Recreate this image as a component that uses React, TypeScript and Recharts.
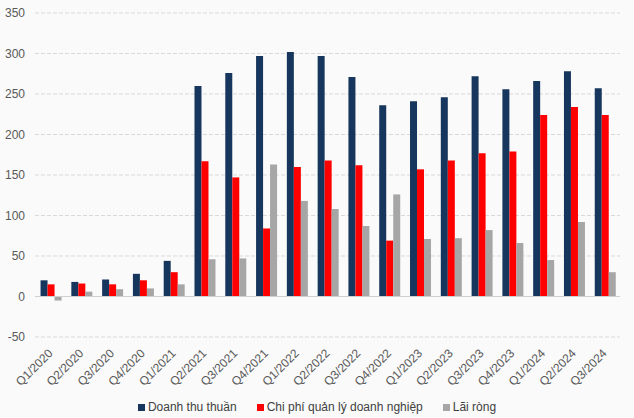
import {
  BarChart,
  Bar,
  XAxis,
  YAxis,
  CartesianGrid,
  ReferenceLine,
} from "recharts";

const quarters = [
  "Q1/2020", "Q2/2020", "Q3/2020", "Q4/2020",
  "Q1/2021", "Q2/2021", "Q3/2021", "Q4/2021",
  "Q1/2022", "Q2/2022", "Q3/2022", "Q4/2022",
  "Q1/2023", "Q2/2023", "Q3/2023", "Q4/2023",
  "Q1/2024", "Q2/2024", "Q3/2024",
];

// Doanh thu thuần
const revenue = [
  20, 18, 21, 28, 44, 260, 276, 297, 302, 297,
  271, 236, 241, 246, 272, 256, 266, 278, 257,
];

// Chi phí quản lý doanh nghiệp
const adminCost = [
  15, 16, 15, 20, 30, 167, 147, 84, 160, 168,
  162, 69, 157, 168, 177, 179, 224, 234, 224,
];

// Lãi ròng
const netProfit = [
  -5, 6, 9, 10, 15, 46, 47, 163, 118, 108,
  87, 126, 71, 72, 82, 66, 45, 92, 30,
];

const yTicks = [-50, 0, 50, 100, 150, 200, 250, 300, 350];

const SERIES = [
  { key: "revenue", name: "Doanh thu thuần", color: "#17365D" },
  { key: "adminCost", name: "Chi phí quản lý doanh nghiệp", color: "#FF0000" },
  { key: "netProfit", name: "Lãi ròng", color: "#A6A6A6" },
] as const;

const FONT = "'Liberation Sans', Arial, sans-serif";

const data = quarters.map((q, i) => ({
  q,
  revenue: revenue[i],
  adminCost: adminCost[i],
  netProfit: netProfit[i],
}));

// nhãn trục X xoay -45°
const QuarterTick = (props: any) => {
  const { x, y, payload } = props;
  const tx = x + 3;
  const ty = y + 17;
  return (
    <text
      x={tx}
      y={ty}
      transform={`rotate(-45, ${tx}, ${ty})`}
      textAnchor="end"
      fontSize={12}
      fontFamily={FONT}
      fill="#595959"
    >
      {payload.value}
    </text>
  );
};

export default function App() {
  return (
    <div
      style={{
        position: "absolute",
        left: 0,
        top: 0,
        width: 634,
        height: 418,
        background: "#FAFAFA",
        fontFamily: FONT,
      }}
    >
      <BarChart
        width={634}
        height={396}
        data={data}
        margin={{ top: 13, right: 14, left: 0, bottom: 0 }}
        barCategoryGap="18%"
        barGap={0}
      >
        <CartesianGrid
          vertical={false}
          stroke="#D9D9D9"
          strokeDasharray="4 2"
        />
        <XAxis
          dataKey="q"
          interval={0}
          height={59}
          axisLine={false}
          tickLine={false}
          tickSize={0}
          tickMargin={0}
          tick={<QuarterTick />}
        />
        <YAxis
          width={35}
          domain={[-50, 350]}
          ticks={yTicks}
          interval={0}
          axisLine={false}
          tickLine={false}
          tickSize={0}
          tickMargin={10}
          tick={{ fontSize: 12, fill: "#595959", fontFamily: FONT }}
        />
        <ReferenceLine y={0} stroke="#D0D0D0" strokeWidth={1} />
        {SERIES.map((s) => (
          <Bar
            key={s.key}
            dataKey={s.key}
            name={s.name}
            fill={s.color}
            isAnimationActive={false}
          />
        ))}
      </BarChart>
      <div
        style={{
          height: 22,
          display: "flex",
          justifyContent: "center",
          alignItems: "center",
          gap: 20,
          fontSize: 12,
          color: "#404040",
        }}
      >
        {SERIES.map((s) => (
          <div key={s.key} style={{ display: "flex", alignItems: "center" }}>
            <span
              style={{
                display: "inline-block",
                width: 7,
                height: 7,
                background: s.color,
                marginRight: 3,
              }}
            />
            {s.name}
          </div>
        ))}
      </div>
    </div>
  );
}
